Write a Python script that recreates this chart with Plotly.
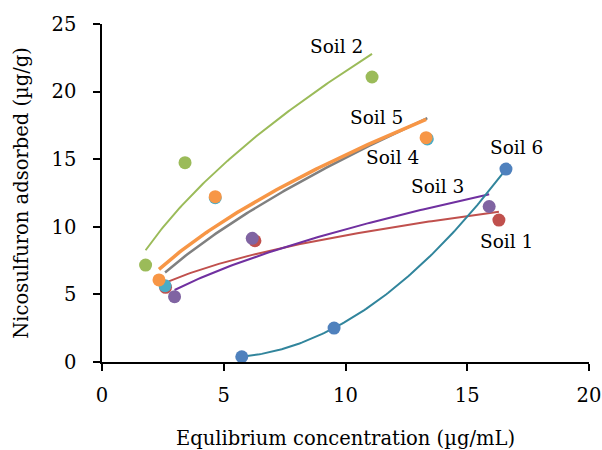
import numpy as np
import plotly.graph_objects as go

# ---- data ----
soils = ["Soil 1", "Soil 2", "Soil 3", "Soil 4", "Soil 5", "Soil 6"]
soil1_x = [2.61, 6.28, 16.3]
soil1_y = [5.52, 8.97, 10.5]
soil2_x = [1.79, 3.41, 11.09]
soil2_y = [7.17, 14.74, 21.08]
soil3_x = [2.98, 6.17, 15.9]
soil3_y = [4.83, 9.15, 11.5]
soil4_x = [2.59, 4.65, 13.36]
soil4_y = [5.64, 12.15, 16.5]
soil5_x = [2.34, 4.65, 13.31]
soil5_y = [6.07, 12.23, 16.59]
soil6_x = [5.74, 9.53, 16.59]
soil6_y = [0.39, 2.51, 14.27]

# trendline type per soil (as in the spreadsheet chart)
fit_types = ["power", "power", "power", "power", "power", "poly2"]

# label positions (data coords)
label_x = [16.61, 9.65, 13.78, 11.91, 11.29, 17.04]
label_y = [8.9, 23.37, 12.97, 15.09, 18.05, 15.88]

xs = [soil1_x, soil2_x, soil3_x, soil4_x, soil5_x, soil6_x]
ys = [soil1_y, soil2_y, soil3_y, soil4_y, soil5_y, soil6_y]

marker_colors = ["#C0504D", "#9BBB59", "#8064A2", "#4BACC6", "#F79646", "#4F81BD"]
trend_colors = ["#C0504D", "#9BBB59", "#7030A0", "#808080", "#F79646", "#31859C"]
trend_widths = [2, 2, 2, 2.5, 3.5, 2]

FONT = "DejaVu Serif"

fig = go.Figure()


def trend(x, y, kind):
    x = np.asarray(x, float)
    y = np.asarray(y, float)
    xx = np.linspace(x.min(), x.max(), 120)
    if kind == "power":
        b, a = np.polyfit(np.log(x), np.log(y), 1)
        yy = np.exp(a) * xx ** b
    else:
        c = np.polyfit(x, y, 2)
        yy = np.polyval(c, xx)
    return xx, yy


# trendlines first (under markers)
for i in range(6):
    tx, ty = trend(xs[i], ys[i], fit_types[i])
    fig.add_trace(go.Scatter(x=tx, y=ty, mode="lines",
                             line=dict(color=trend_colors[i], width=trend_widths[i]),
                             showlegend=False, hoverinfo="skip"))

for i in range(6):
    fig.add_trace(go.Scatter(x=xs[i], y=ys[i], mode="markers", name=soils[i],
                             marker=dict(color=marker_colors[i], size=13),
                             showlegend=False))

for i in range(6):
    fig.add_annotation(x=label_x[i], y=label_y[i], text=soils[i], showarrow=False,
                       font=dict(family=FONT, size=18.5, color="#000000"))

fig.update_layout(
    width=602, height=450,
    margin=dict(l=102, r=13, t=24, b=88, autoexpand=False),
    paper_bgcolor="white", plot_bgcolor="white",
    font=dict(family=FONT, size=19, color="#000000"),
    showlegend=False,
)
fig.update_xaxes(range=[0, 20], tickvals=[0, 5, 10, 15, 20], showgrid=False, zeroline=False,
                 showline=True, linecolor="black", linewidth=1.5, automargin=False,
                 ticks="outside", ticklen=7, tickcolor="black", tickwidth=1.5,
                 ticklabelstandoff=8,
                 tickfont=dict(family=FONT, size=19.5),
                 title=dict(text="Equlibrium concentration (µg/mL)",
                            font=dict(family=FONT, size=19.5), standoff=27))
fig.update_yaxes(range=[0, 25], tickvals=[0, 5, 10, 15, 20, 25], showgrid=False, zeroline=False,
                 showline=True, linecolor="black", linewidth=1.5, automargin=False,
                 ticks="outside", ticklen=7, tickcolor="black", tickwidth=1.5,
                 ticklabelstandoff=13,
                 tickfont=dict(family=FONT, size=19.5),
                 title=dict(text="Nicosulfuron adsorbed (µg/g)",
                            font=dict(family=FONT, size=19.5), standoff=18))

fig.write_html("out.html", config={"displayModeBar": False},
               post_script="document.body.style.margin='0';document.body.style.overflow='hidden';")
